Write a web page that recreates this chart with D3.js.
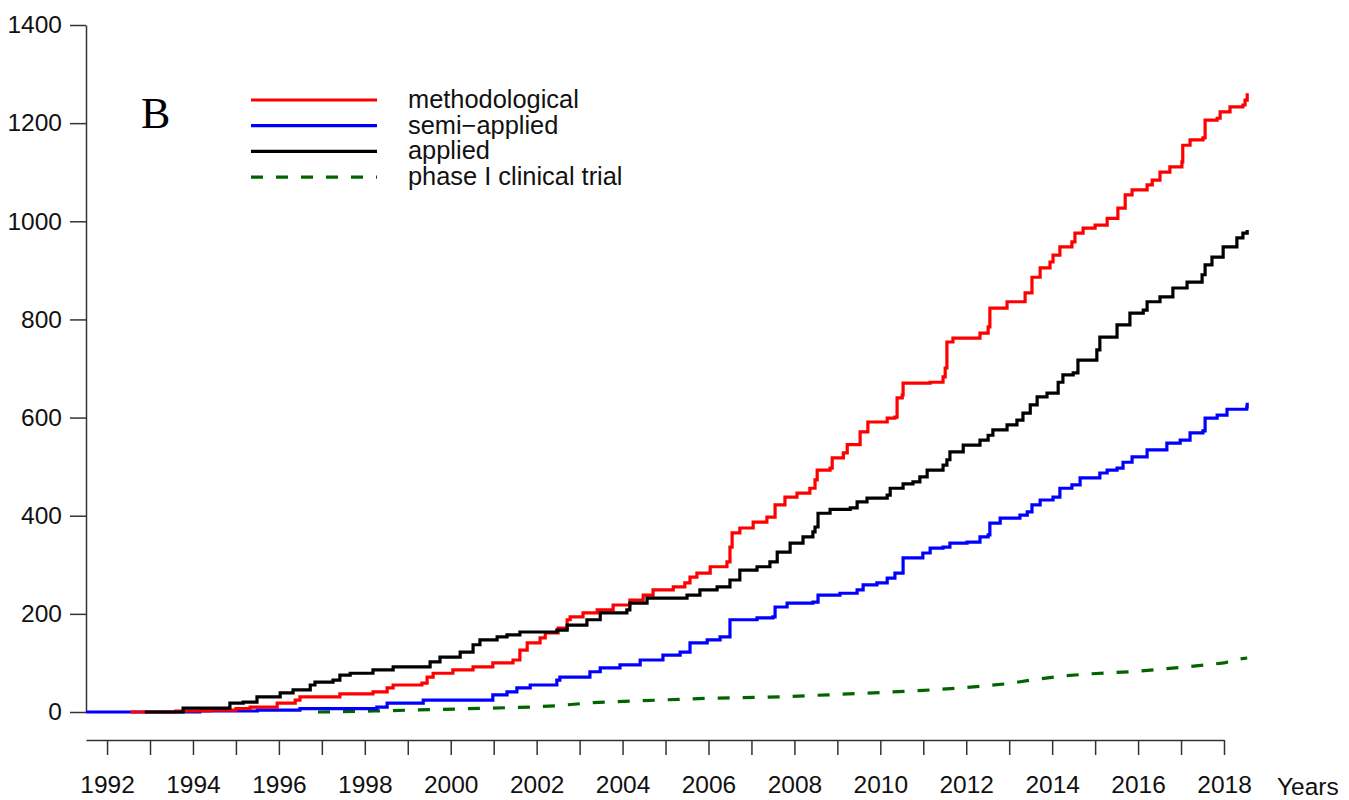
<!DOCTYPE html>
<html>
<head>
<meta charset="utf-8">
<script src="https://cdn.jsdelivr.net/npm/d3@7"></script>
<style>
  body { margin: 0; background: #fff; }
  svg text { font-family: "Liberation Sans", Arial, sans-serif; }
</style>
</head>
<body>
<svg id="chart" width="1349" height="800"></svg>
<script>
// cumulative counts, [decimal year, count]
const methodological = [
  [1992.54, 0], [1993.6, 2], [1994.4, 4], [1995.0, 7], [1995.33, 10], [1995.96, 18], [1996.38, 24],
  [1996.49, 31], [1997.42, 37], [1998.19, 41], [1998.52, 49], [1998.66, 55], [1999.33, 59],
  [1999.45, 71], [1999.59, 79], [2000.05, 86], [2000.52, 92], [2000.98, 100], [2001.45, 106],
  [2001.61, 126], [2001.78, 141], [2002.08, 151], [2002.2, 161], [2002.5, 171], [2002.71, 188],
  [2002.78, 194], [2003.08, 202], [2003.41, 208], [2003.78, 218], [2004.17, 228], [2004.48, 238],
  [2004.71, 249], [2005.18, 255], [2005.45, 263], [2005.57, 275], [2005.73, 283], [2006.04, 296],
  [2006.43, 306], [2006.5, 336], [2006.55, 365], [2006.73, 375], [2007.04, 387], [2007.36, 397],
  [2007.55, 422], [2007.78, 438], [2008.06, 446], [2008.36, 456], [2008.48, 473], [2008.53, 493],
  [2008.83, 497], [2008.88, 518], [2009.14, 528], [2009.23, 545], [2009.53, 571], [2009.71, 591],
  [2010.16, 599], [2010.34, 601], [2010.39, 640], [2010.51, 646], [2010.53, 670], [2011.16, 672],
  [2011.46, 683], [2011.51, 701], [2011.55, 754], [2011.69, 762], [2012.32, 772], [2012.51, 785],
  [2012.55, 823], [2012.95, 836], [2013.37, 854], [2013.53, 886], [2013.72, 905], [2013.95, 917],
  [2014.02, 931], [2014.18, 948], [2014.46, 958], [2014.53, 976], [2014.72, 986], [2015.0, 992],
  [2015.28, 1006], [2015.53, 1027], [2015.7, 1054], [2015.86, 1064], [2016.21, 1074], [2016.33, 1084],
  [2016.51, 1100], [2016.74, 1111], [2017.02, 1121], [2017.04, 1155], [2017.21, 1166], [2017.51, 1170],
  [2017.56, 1206], [2017.84, 1210], [2017.91, 1223], [2018.14, 1233], [2018.44, 1237], [2018.49, 1247],
  [2018.54, 1261]
];

const semiApplied = [
  [1991.51, 0], [1994.16, 2], [1995.5, 4], [1996.49, 7], [1998.28, 10], [1998.52, 18], [1999.36, 24],
  [2000.98, 35], [2001.31, 41], [2001.54, 49], [2001.85, 55], [2002.47, 65], [2002.54, 71],
  [2003.24, 82], [2003.48, 90], [2003.94, 96], [2004.41, 106], [2004.94, 116], [2005.34, 122],
  [2005.57, 141], [2005.97, 147], [2006.27, 153], [2006.5, 188], [2007.13, 192], [2007.5, 194],
  [2007.55, 214], [2007.83, 222], [2008.43, 224], [2008.55, 238], [2009.06, 242], [2009.46, 249],
  [2009.6, 259], [2009.92, 263], [2010.16, 273], [2010.34, 283], [2010.53, 314], [2010.99, 324],
  [2011.16, 334], [2011.46, 336], [2011.62, 344], [2012.02, 346], [2012.32, 357], [2012.51, 361],
  [2012.55, 385], [2012.79, 395], [2013.25, 401], [2013.42, 408], [2013.53, 422], [2013.72, 432],
  [2014.02, 438], [2014.18, 456], [2014.46, 463], [2014.65, 477], [2015.11, 487], [2015.28, 493],
  [2015.51, 497], [2015.65, 509], [2015.86, 520], [2016.21, 534], [2016.67, 548], [2016.98, 554],
  [2017.21, 569], [2017.51, 573], [2017.56, 599], [2017.84, 605], [2018.07, 617], [2018.53, 622],
  [2018.54, 630]
];

const applied = [
  [1992.88, 0], [1993.77, 8], [1994.86, 18], [1995.17, 20], [1995.49, 31], [1996.03, 39], [1996.33, 45],
  [1996.73, 55], [1996.84, 61], [1997.26, 65], [1997.42, 75], [1997.66, 79], [1998.19, 86],
  [1998.66, 92], [1999.52, 102], [1999.75, 112], [2000.22, 122], [2000.52, 137], [2000.68, 147],
  [2001.08, 153], [2001.31, 157], [2001.61, 163], [2002.47, 167], [2002.71, 177], [2003.17, 188],
  [2003.48, 202], [2004.1, 208], [2004.17, 222], [2004.57, 232], [2005.5, 238], [2005.8, 249],
  [2006.2, 255], [2006.5, 269], [2006.73, 289], [2007.13, 296], [2007.43, 306], [2007.6, 326],
  [2007.9, 344], [2008.2, 357], [2008.43, 367], [2008.48, 377], [2008.55, 405], [2008.83, 413],
  [2009.3, 416], [2009.46, 428], [2009.69, 436], [2010.16, 442], [2010.23, 456], [2010.53, 465],
  [2010.76, 469], [2010.92, 479], [2011.09, 493], [2011.46, 503], [2011.55, 514], [2011.62, 530],
  [2011.93, 544], [2012.32, 554], [2012.51, 564], [2012.62, 575], [2012.95, 585], [2013.18, 595],
  [2013.32, 609], [2013.49, 626], [2013.65, 642], [2013.88, 650], [2014.14, 672], [2014.25, 687],
  [2014.49, 691], [2014.6, 717], [2015.04, 738], [2015.11, 764], [2015.51, 789], [2015.81, 813],
  [2016.12, 819], [2016.21, 836], [2016.51, 846], [2016.81, 864], [2017.14, 876], [2017.49, 891],
  [2017.56, 911], [2017.72, 927], [2017.98, 948], [2018.3, 966], [2018.44, 976], [2018.54, 982]
];

const phaseOne = [
  [1996.91, 0], [1998.22, 2], [2000.1, 6], [2001.85, 10], [2002.5, 13], [2003.29, 19], [2004.76, 24],
  [2006.0, 28], [2007.67, 31], [2008.8, 35], [2009.85, 39], [2011.0, 44], [2012.02, 50],
  [2013.0, 58], [2013.49, 65], [2014.2, 73], [2014.93, 78], [2016.0, 83], [2016.39, 86],
  [2017.12, 92], [2018.0, 100], [2018.35, 108], [2018.54, 110]
];

const seriesNames = ["methodological", "semi\u2212applied", "applied", "phase I clinical trial"];
const seriesColors = ["#ff0000", "#0000ff", "#000000", "#006400"];
const seriesData = [methodological, semiApplied, applied, phaseOne];
const yTicks = [0, 200, 400, 600, 800, 1000, 1200, 1400];
const xTicks = d3.range(1992, 2019);

const svg = d3.select("#chart");

const x = d3.scaleLinear().domain([1991.51, 2018]).range([86, 1224]);
const y = d3.scaleLinear().domain([0, 1400]).range([712, 25]);

// y axis
const yAxis = svg.append("g")
  .attr("transform", "translate(86,0)")
  .call(d3.axisLeft(y).tickValues(yTicks).tickFormat(d3.format("d"))
    .tickSize(16).tickSizeOuter(0).tickPadding(8));

// x axis, offset below the plot like base R
const xAxis = svg.append("g")
  .attr("transform", "translate(0,740)")
  .call(d3.axisBottom(x).tickValues(xTicks).tickSize(15).tickSizeOuter(0).tickPadding(21)
    .tickFormat(d => d % 2 === 0 ? d : ""));

[yAxis, xAxis].forEach(a => {
  a.selectAll("path, line").attr("stroke", "#333").attr("stroke-width", 1.5);
  a.selectAll("text").attr("fill", "#111").style("font-size", "24.5px");
});

svg.append("text")
  .attr("x", 1277).attr("y", 795)
  .style("font-size", "24.5px").attr("fill", "#111")
  .text("Years");

// step curves
const line = d3.line()
  .x(d => x(d[0]))
  .y(d => y(d[1]));

// draw order: green, blue, red, black
[3, 1, 0, 2].forEach(i => {
  const isPhase = i === 3;
  svg.append("path")
    .datum(seriesData[i])
    .attr("fill", "none")
    .attr("stroke", seriesColors[i])
    .attr("stroke-width", 3.2)
    .attr("stroke-dasharray", isPhase ? "12,13" : null)
    .attr("d", line.curve(isPhase ? d3.curveLinear : d3.curveStepAfter));
});

// legend
const legend = svg.append("g");
seriesNames.forEach((name, i) => {
  const ry = 100 + i * 25.7;
  legend.append("line")
    .attr("x1", 251).attr("x2", 377)
    .attr("y1", ry).attr("y2", ry)
    .attr("stroke", seriesColors[i])
    .attr("stroke-width", 3.2)
    .attr("stroke-dasharray", i === 3 ? "12,13" : null);
  legend.append("text")
    .attr("x", 408).attr("y", ry + 8)
    .style("font-size", "25.4px").attr("fill", "#111")
    .text(name);
});

// panel letter
svg.append("text")
  .attr("x", 141).attr("y", 128)
  .style("font-family", "'Liberation Serif', 'Times New Roman', serif")
  .style("font-size", "44px")
  .attr("fill", "#000")
  .text("B");
</script>
</body>
</html>
